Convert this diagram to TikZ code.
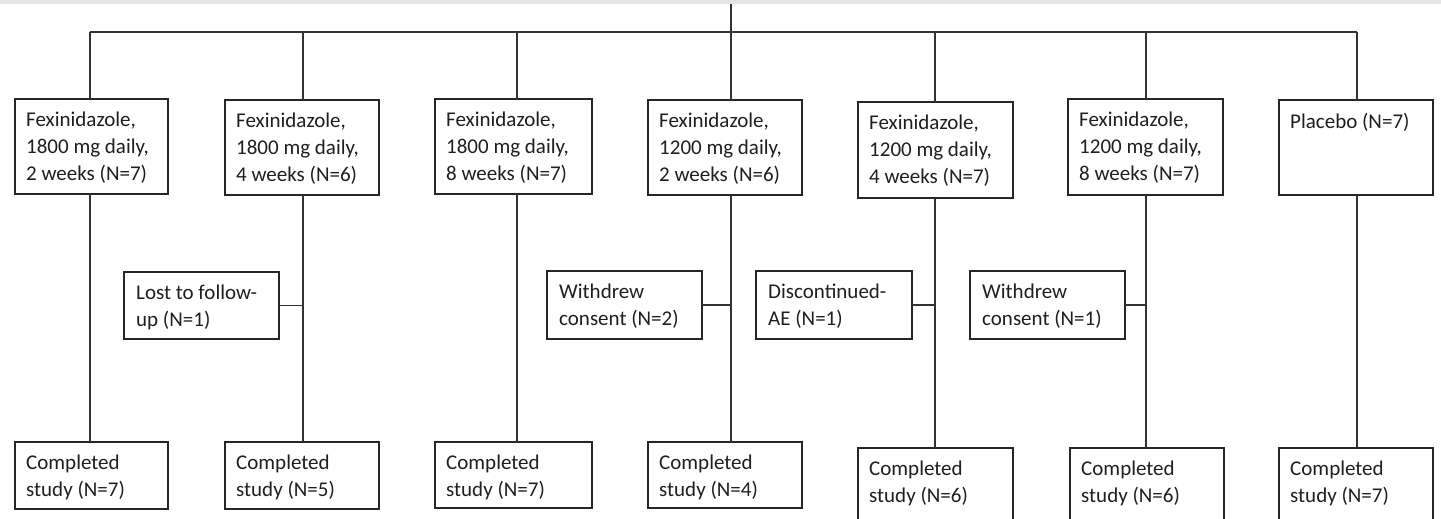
\documentclass[tikz,border=0pt]{standalone}
\usepackage{fontspec}
\setmainfont{Carlito}
\begin{document}
\begin{tikzpicture}[x=1pt,y=-1pt,
  boxst/.style={draw=black!85, line width=1.4pt, rectangle, anchor=north west, inner sep=0pt, outer sep=0pt},
  txt/.style={anchor=north west, inner sep=0pt, align=left, font=\fontsize{21}{27}\selectfont, text=black!88},
  conn/.style={draw=black!80, line width=1.6pt}]
\useasboundingbox (0,0) rectangle (1441,519);
\clip (0,0) rectangle (1441,519);
\fill[white] (0,0) rectangle (1441,519);
\fill[black!10] (0,0) rectangle (1441,4);

% top row boxes
\node[boxst, minimum width=153pt, minimum height=95pt] (t1) at (15,99) {};
\node[boxst, minimum width=154pt, minimum height=95pt] (t2) at (225,100) {};
\node[boxst, minimum width=157pt, minimum height=95pt] (t3) at (435,99) {};
\node[boxst, minimum width=154pt, minimum height=95pt] (t4) at (648,100) {};
\node[boxst, minimum width=155pt, minimum height=96pt] (t5) at (858,102) {};
\node[boxst, minimum width=155pt, minimum height=96pt] (t6) at (1068,99) {};
\node[boxst, minimum width=154pt, minimum height=95pt] (t7) at (1279,100) {};

\node[txt] (t1t) at ([shift={(11,13)}]t1.north west) {Fexinidazole,\\1800 mg daily,\\2 weeks (N=7)};
\node[txt] (t2t) at ([shift={(11,13)}]t2.north west) {Fexinidazole,\\1800 mg daily,\\4 weeks (N=6)};
\node[txt] (t3t) at ([shift={(11,13)}]t3.north west) {Fexinidazole,\\1800 mg daily,\\8 weeks (N=7)};
\node[txt] (t4t) at ([shift={(11,13)}]t4.north west) {Fexinidazole,\\1200 mg daily,\\2 weeks (N=6)};
\node[txt] (t5t) at ([shift={(11,13)}]t5.north west) {Fexinidazole,\\1200 mg daily,\\4 weeks (N=7)};
\node[txt] (t6t) at ([shift={(11,13)}]t6.north west) {Fexinidazole,\\1200 mg daily,\\8 weeks (N=7)};
\node[txt] (t7t) at ([shift={(11,13)}]t7.north west) {Placebo (N=7)};

% side boxes
\node[boxst, minimum width=155pt, minimum height=67pt] (s2) at (124,272) {};
\node[boxst, minimum width=155pt, minimum height=68pt] (s4) at (547,271) {};
\node[boxst, minimum width=156pt, minimum height=68pt] (s5) at (756,271) {};
\node[boxst, minimum width=155pt, minimum height=68pt] (s6) at (970,271) {};
\node[txt] (s2t) at ([shift={(12,13)}]s2.north west) {Lost to follow-\\up (N=1)};
\node[txt] (s4t) at ([shift={(12,13)}]s4.north west) {Withdrew\\consent (N=2)};
\node[txt] (s5t) at ([shift={(12,13)}]s5.north west) {Discontinued-\\AE (N=1)};
\node[txt] (s6t) at ([shift={(12,13)}]s6.north west) {Withdrew\\consent (N=1)};

% bottom boxes
\node[boxst, minimum width=153pt, minimum height=67pt] (c1) at (15,442) {};
\node[boxst, minimum width=154pt, minimum height=67pt] (c2) at (225,442) {};
\node[boxst, minimum width=157pt, minimum height=66pt] (c3) at (435,442) {};
\node[boxst, minimum width=154pt, minimum height=66pt] (c4) at (648,442) {};
\node[boxst, minimum width=155pt, minimum height=80pt] (c5) at (858,448) {};
\node[boxst, minimum width=154pt, minimum height=80pt] (c6) at (1070,448) {};
\node[boxst, minimum width=154pt, minimum height=80pt] (c7) at (1279,448) {};
\node[txt] (c1t) at ([shift={(11,13)}]c1.north west) {Completed\\study (N=7)};
\node[txt] (c2t) at ([shift={(11,13)}]c2.north west) {Completed\\study (N=5)};
\node[txt] (c3t) at ([shift={(11,13)}]c3.north west) {Completed\\study (N=7)};
\node[txt] (c4t) at ([shift={(11,13)}]c4.north west) {Completed\\study (N=4)};
\node[txt] (c5t) at ([shift={(11,13)}]c5.north west) {Completed\\study (N=6)};
\node[txt] (c6t) at ([shift={(11,13)}]c6.north west) {Completed\\study (N=6)};
\node[txt] (c7t) at ([shift={(11,13)}]c7.north west) {Completed\\study (N=7)};

% bus coordinates
\coordinate (top) at (730.7,4);
\coordinate (b1) at (90,32);
\coordinate (b2) at (302.7,32);
\coordinate (b3) at (516.7,32);
\coordinate (b4) at (730.7,32);
\coordinate (b5) at (935,32);
\coordinate (b6) at (1145.7,32);
\coordinate (b7) at (1356.7,32);

\draw[conn] (top) -- (b4);
\draw[conn] (b1) -- (b7);
\foreach \i in {1,...,7}{
  \draw[conn] (b\i) -- (b\i |- t\i.north);
  \draw[conn] (t\i.south -| b\i) -- (b\i |- c\i.north);
}
\draw[conn] (s2.east) -- (s2.east -| b2);
\draw[conn] (s4.east) -- (s4.east -| b4);
\draw[conn] (s5.east) -- (s5.east -| b5);
\draw[conn] (s6.east) -- (s6.east -| b6);
\end{tikzpicture}
\end{document}
